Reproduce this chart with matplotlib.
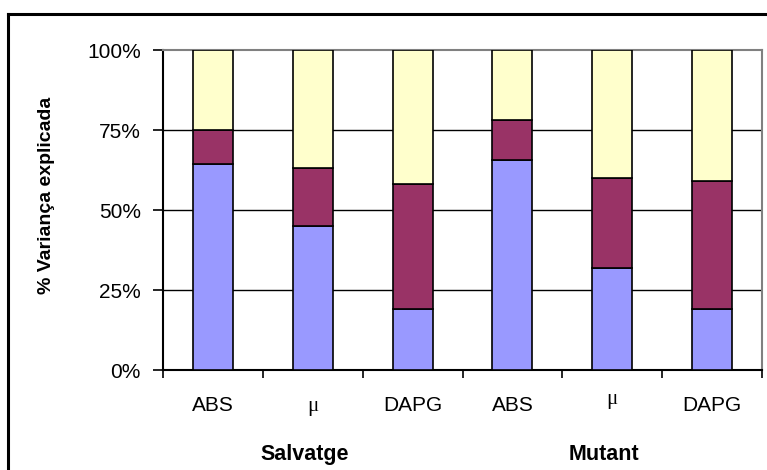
"""Stacked variance-explained bars for wild type and mutant."""

import matplotlib

matplotlib.use("Agg")
import matplotlib.pyplot as plt
from matplotlib.lines import Line2D
from matplotlib.ticker import FixedLocator, FuncFormatter
import matplotlib.transforms as mtransforms

plt.rcParams["font.family"] = ["Liberation Sans", "DejaVu Sans"]

# one bar per variable, three blocks per group
variables = ["ABS", "μ", "DAPG", "ABS", "μ", "DAPG"]
groups = ["Salvatge", "Mutant"]
part_blue = [64.5, 45.0, 19.0, 65.5, 32.0, 19.0]
part_maroon = [10.5, 18.0, 39.0, 12.5, 28.0, 40.0]
part_yellow = [25.0, 37.0, 42.0, 22.0, 40.0, 41.0]

W, H, DPI = 767, 470, 100
fig = plt.figure(figsize=(W / DPI, H / DPI), dpi=DPI)
ax = fig.add_axes([163 / W, 1 - 370 / H, (762 - 163) / W, (370 - 50) / H])

x = list(range(len(variables)))
bar_kw = dict(width=0.4, edgecolor="black", linewidth=1.2, zorder=3)
ax.bar(x, part_blue, color="#9999FF", **bar_kw)
ax.bar(x, part_maroon, bottom=part_blue, color="#993366", **bar_kw)
base = [a + b for a, b in zip(part_blue, part_maroon)]
ax.bar(x, part_yellow, bottom=base, color="#FFFFCC", **bar_kw)

for level in (25, 50, 75):
    ax.axhline(level, color="black", linewidth=1.0, zorder=1)

ax.set_xlim(-0.5, len(variables) - 0.5)
ax.set_ylim(0, 100)
ax.yaxis.set_major_locator(FixedLocator([0, 25, 50, 75, 100]))
ax.yaxis.set_major_formatter(FuncFormatter(lambda v, _: f"{v:.0f}%"))
ax.xaxis.set_major_locator(FixedLocator([i - 0.5 for i in range(len(variables) + 1)]))
ax.set_xticklabels([])
ax.tick_params(axis="y", length=7, width=1.2, pad=9, labelsize=15, direction="out")
ax.tick_params(axis="x", length=6, width=1.2, direction="out")

for side in ("left", "bottom"):
    ax.spines[side].set_color("black")
    ax.spines[side].set_linewidth(1.5)
for side in ("top", "right"):
    ax.spines[side].set_color("#808080")
    ax.spines[side].set_linewidth(1.5)

# category labels under each bar; the second mu sits a little higher
trans = mtransforms.blended_transform_factory(ax.transData, ax.transAxes)
for i, name in enumerate(variables):
    y = -0.127
    fam = ["Liberation Sans", "DejaVu Sans"]
    if name == "μ":
        fam = ["Liberation Serif", "DejaVu Serif"]
        if i >= 3:
            y = -0.105
    ax.text(i, y, name, transform=trans, ha="center", va="baseline",
            fontsize=15, family=fam)

for g, name in enumerate(groups):
    ax.text(3 * g + 1 - 0.08, -0.281, name, transform=trans, ha="center",
            va="baseline", fontsize=15.5, fontweight="bold")

fig.text(47 / W, 1 - 195 / H, "% Variança explicada", rotation=90,
         ha="center", va="center", fontsize=14, fontweight="bold")

# chart frame, only left and top edges are inside the image
fig.add_artist(Line2D([8 / W, 8 / W], [0, 1 - 14 / H], transform=fig.transFigure,
                      color="black", linewidth=2.2))
fig.add_artist(Line2D([8 / W, 1], [1 - 14 / H, 1 - 14 / H], transform=fig.transFigure,
                      color="black", linewidth=2.2))

fig.savefig("out.png", dpi=DPI)
